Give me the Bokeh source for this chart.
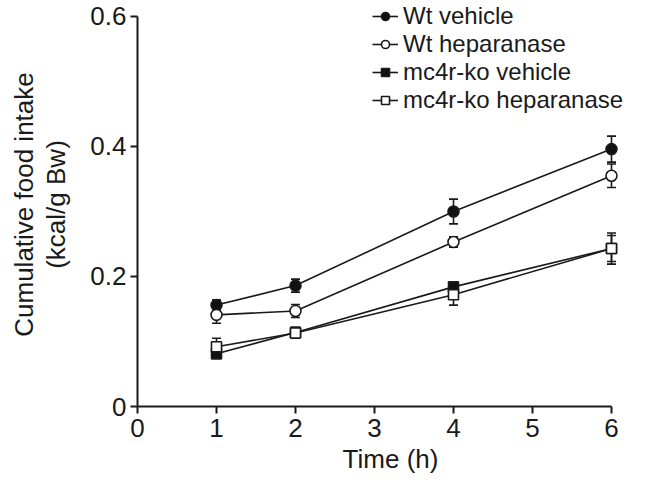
from bokeh.plotting import figure
from bokeh.models import (Range1d, FixedTicker, Whisker, TeeHead, ColumnDataSource,
                          Legend, LegendItem, LinearAxis)
from bokeh.embed import file_html
from bokeh.resources import INLINE

time_h = [1, 2, 4, 6]
wt_vehicle = [0.156, 0.186, 0.300, 0.396]
wt_vehicle_err = [0.008, 0.010, 0.019, 0.020]
wt_hep = [0.141, 0.147, 0.253, 0.355]
wt_hep_err = [0.013, 0.010, 0.008, 0.018]
ko_vehicle = [0.081, 0.114, 0.184, 0.243]
ko_vehicle_err = [0.006, 0.008, 0.008, 0.020]
ko_hep = [0.092, 0.113, 0.172, 0.243]
ko_hep_err = [0.013, 0.008, 0.016, 0.024]

series = [
    ("Wt vehicle", wt_vehicle, wt_vehicle_err, "circle", "#111111"),
    ("Wt heparanase", wt_hep, wt_hep_err, "circle", "white"),
    ("mc4r-ko vehicle", ko_vehicle, ko_vehicle_err, "square", "#111111"),
    ("mc4r-ko heparanase", ko_hep, ko_hep_err, "square", "white"),
]
x_ticks = [0, 1, 2, 3, 4, 5, 6]
y_ticks = [0, 0.2, 0.4, 0.6]
y_title_1 = "Cumulative food intake"
y_title_2 = "(kcal/g Bw)"

FONT = "Liberation Sans"
INK = "#1a1a1a"

p = figure(width=645, height=485, output_backend="svg", toolbar_location=None,
           x_range=Range1d(0, 6.405), y_range=Range1d(0, 0.6215),
           min_border_left=137, min_border_right=2, min_border_top=2, min_border_bottom=79)
p.outline_line_color = None
p.grid.visible = False
p.background_fill_color = "white"

for ax in (p.xaxis[0], p.yaxis[0]):
    ax.axis_line_color = INK
    ax.axis_line_width = 2
    ax.major_tick_line_color = INK
    ax.major_tick_line_width = 2
    ax.major_tick_out = 7
    ax.major_tick_in = 0
    ax.minor_tick_line_color = None
    ax.major_label_text_font = FONT
    ax.major_label_text_font_size = "26px"
    ax.major_label_text_color = INK
    ax.axis_label_text_font = FONT
    ax.axis_label_text_font_size = "26px"
    ax.axis_label_text_font_style = "normal"
    ax.axis_label_text_color = INK

p.xaxis.ticker = FixedTicker(ticks=x_ticks)
p.xaxis.bounds = (0, 6)
p.xaxis.axis_label = "Time (h)"
p.xaxis.major_label_standoff = 5
p.xaxis.axis_label_standoff = 4

p.yaxis.ticker = FixedTicker(ticks=y_ticks)
p.yaxis.bounds = (0, 0.6)
p.yaxis.major_label_overrides = {0: "0", 0.2: "0.2", 0.4: "0.4", 0.6: "0.6"}
p.yaxis.axis_label = y_title_2
p.yaxis.major_label_standoff = 4
p.yaxis.axis_label_standoff = 16

outer = LinearAxis(ticker=FixedTicker(ticks=[]), axis_label=y_title_1,
                   axis_line_color=None, major_tick_line_color=None, minor_tick_line_color=None,
                   major_label_text_font_size="0px", axis_label_standoff=0,
                   axis_label_text_font=FONT, axis_label_text_font_size="26px",
                   axis_label_text_font_style="normal", axis_label_text_color=INK)
p.add_layout(outer, "left")

items = []
for name, vals, errs, marker, fill in series:
    src = ColumnDataSource(dict(x=time_h, y=vals,
                                lo=[v - e for v, e in zip(vals, errs)],
                                hi=[v + e for v, e in zip(vals, errs)]))
    w = Whisker(base="x", lower="lo", upper="hi", source=src, dimension="height",
                line_color=INK, line_width=1.6,
                lower_head=TeeHead(size=9, line_color=INK, line_width=1.6),
                upper_head=TeeHead(size=9, line_color=INK, line_width=1.6))
    p.add_layout(w)

for name, vals, errs, marker, fill in series:
    src = ColumnDataSource(dict(x=time_h, y=vals))
    ln = p.line("x", "y", source=src, line_color=INK, line_width=1.6)
    sc = p.scatter("x", "y", source=src, marker=marker, size=11 if marker == "circle" else 10,
                   fill_color=fill, line_color=INK, line_width=1.6)
    items.append(LegendItem(label=name, renderers=[ln, sc]))

legend = Legend(items=items, location=(235, 292), padding=0, margin=0,
                border_line_alpha=0, background_fill_alpha=0,
                glyph_width=26, glyph_height=20, label_standoff=5, spacing=0,
                label_text_font=FONT, label_text_font_size="24px", label_text_color=INK,
                label_height=20)
p.add_layout(legend, "center")

open("out.html", "w").write(file_html(p, INLINE))
